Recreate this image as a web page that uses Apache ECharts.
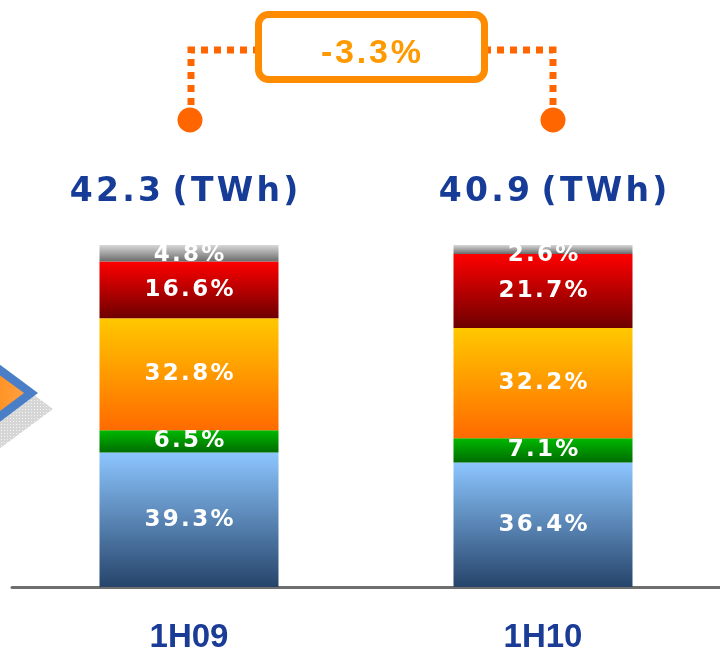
<!DOCTYPE html>
<html>
<head>
<meta charset="utf-8">
<script src="https://cdn.jsdelivr.net/npm/echarts@6/dist/echarts.min.js"></script>
<style>
    html, body { margin: 0; padding: 0; background: #fff; }
    #main { width: 720px; height: 659px; }
</style>
</head>
<body>
<div id="main"></div>
<script>
// data, stacked from the bottom up (share of output, %)
const categories = ['1H09', '1H10'];
const blueShare = [39.3, 36.4];
const greenShare = [6.5, 7.1];
const orangeShare = [32.8, 32.2];
const redShare = [16.6, 21.7];
const grayShare = [4.8, 2.6];
const totals = [42.3, 40.9];
const changeLabel = '-3.3%';

const HAIR = '\u200A';
const spaced = (s) => s.split('').join(HAIR);

const grad = (top, bottom) => new echarts.graphic.LinearGradient(0, 0, 0, 1, [
    {offset: 0, color: top},
    {offset: 1, color: bottom}
]);

const segLabel = {
    show: true,
    position: 'inside',
    color: '#fff',
    fontFamily: 'DejaVu Sans',
    fontWeight: 'bold',
    fontSize: 23,
    formatter: (p) => spaced(p.value.toFixed(1) + '%')
};

const makeSeries = (name, data, top, bottom, offsets) => ({
    name: name,
    type: 'bar',
    stack: 'share',
    barWidth: 179,
    data: offsets ? data.map((v, i) => ({value: v, label: {offset: offsets[i]}})) : data,
    itemStyle: {color: grad(top, bottom)},
    label: segLabel,
    emphasis: {disabled: true}
});

// dotted gray shadow pattern
const pat = document.createElement('canvas');
pat.width = 3; pat.height = 3;
const pctx = pat.getContext('2d');
pctx.fillStyle = '#d6d6d6';
pctx.fillRect(0, 0, 3, 3);
pctx.fillStyle = '#f4f4f4';
pctx.fillRect(1, 1, 1, 1);

const chart = echarts.init(document.getElementById('main'));

const dotted = {stroke: '#ff6600', lineWidth: 7, lineDash: [7, 6], fill: null};
const totalOffsets = [[-5, -53], [10, -53]];

chart.setOption({
    animation: false,
    grid: {left: 12, width: 710, top: 245, bottom: 72, containLabel: false},
    xAxis: {
        type: 'category',
        data: categories,
        axisTick: {show: false},
        axisLine: {lineStyle: {color: '#6e6e6e', width: 3}},
        axisLabel: {
            margin: 34,
            color: '#1a3c96',
            fontFamily: 'Liberation Sans',
            fontWeight: 'bold',
            fontSize: 33
        }
    },
    yAxis: {
        type: 'value',
        min: 0,
        max: 100,
        show: false
    },
    series: [
        makeSeries('blue', blueShare, '#8cc6ff', '#26446a'),
        makeSeries('green', greenShare, '#00b800', '#006c00'),
        makeSeries('orange', orangeShare, '#ffc800', '#ff6a00'),
        makeSeries('red', redShare, '#ff0000', '#6e0000'),
        makeSeries('gray', grayShare, '#d8d8d8', '#6c6c6c', [[0, 2], [0, 6]]),
        {
            type: 'scatter',
            symbolSize: 0,
            itemStyle: {opacity: 1},
            data: totals.map((t, i) => ({value: 100, label: {offset: totalOffsets[i]}})),
            label: {
                show: true,
                position: 'inside',
                color: '#173c98',
                fontFamily: 'DejaVu Sans',
                fontWeight: 'bold',
                fontSize: 33,
                formatter: (p) => spaced(totals[p.dataIndex].toFixed(1)) + ' ' + spaced('(TWh)')
            },
            emphasis: {disabled: true},
            z: 5
        }
    ],
    graphic: [
        // arrow decoration on the left edge
        {type: 'polygon', shape: {points: [[-20, 355], [53, 409], [-20, 463]]}, style: {fill: {image: pat, repeat: 'repeat'}}},
        {type: 'polygon', shape: {points: [[-20, 350], [38, 393], [-20, 437]]}, style: {fill: '#4a7fc8'}},
        {type: 'polygon', shape: {points: [[-20, 361], [24, 393], [-20, 426]]},
            style: {fill: new echarts.graphic.LinearGradient(0, 0, 1, 0, [{offset: 0, color: '#ff8a10'}, {offset: 1, color: '#ffa040'}])}},
        // change bracket
        {type: 'polyline', shape: {points: [[191, 105], [191, 50], [255, 50]]}, style: dotted},
        {type: 'polyline', shape: {points: [[553, 105], [553, 50], [488, 50]]}, style: dotted},
        {type: 'circle', shape: {cx: 190, cy: 120, r: 12.5}, style: {fill: '#ff6600'}},
        {type: 'circle', shape: {cx: 553, cy: 120, r: 12.5}, style: {fill: '#ff6600'}},
        {type: 'rect', shape: {x: 258.5, y: 14.5, width: 226, height: 65, r: 10},
            style: {fill: '#fff', stroke: '#ff8c00', lineWidth: 7}},
        {type: 'text', x: 371, y: 54,
            style: {text: spaced(changeLabel), fill: '#ff9900', font: 'bold 34px "Liberation Sans"', align: 'center', verticalAlign: 'middle'}}
    ]
});
</script>
</body>
</html>
